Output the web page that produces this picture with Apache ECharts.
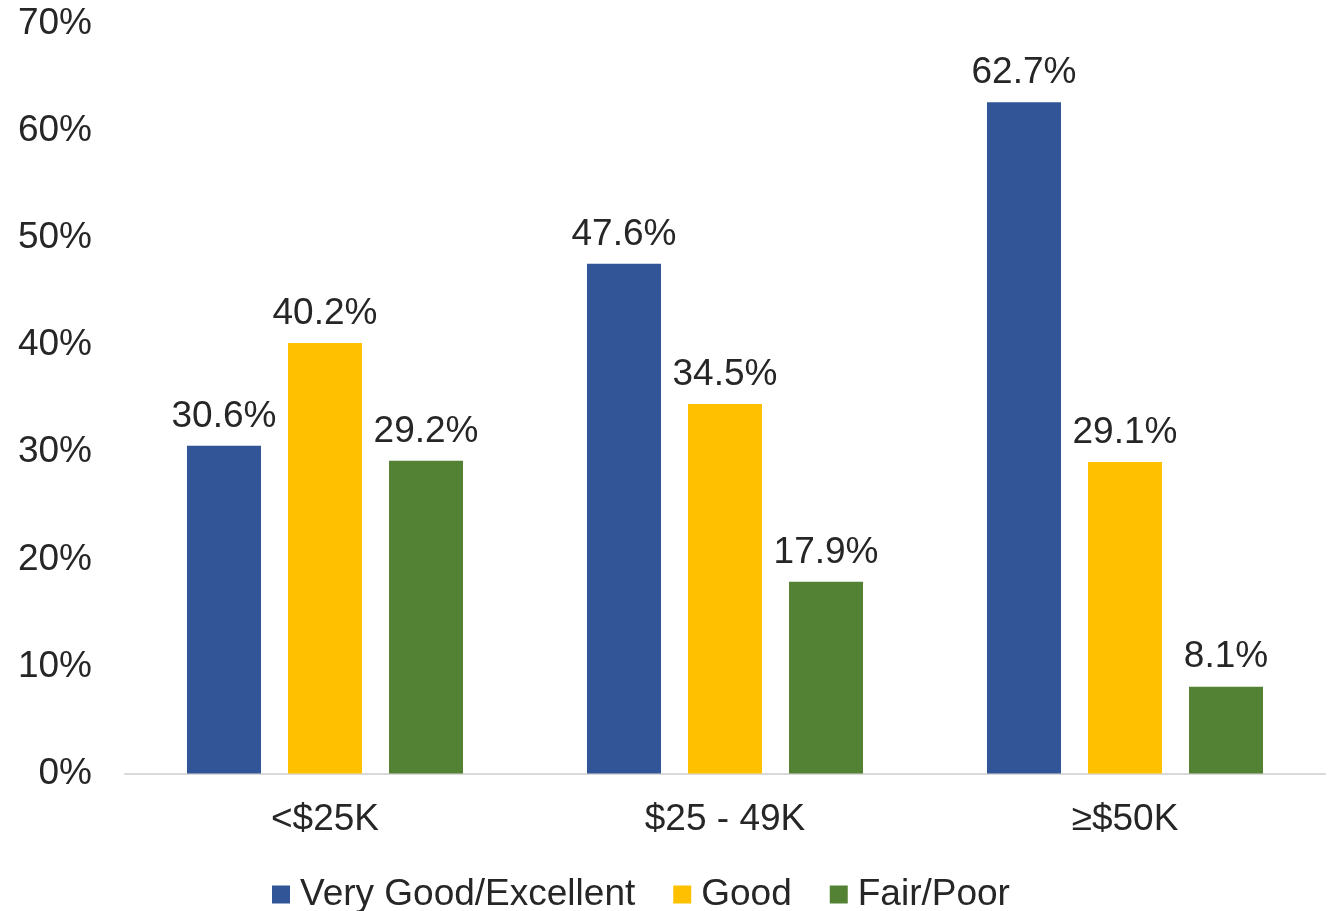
<!DOCTYPE html>
<html><head><meta charset="utf-8">
<script src="https://cdn.jsdelivr.net/npm/echarts@6/dist/echarts.min.js"></script>
<style>html,body{margin:0;padding:0;background:#fff;}#c{width:1329px;height:911px;}</style>
</head><body><div id="c"></div>
<script>
const categories = ['<$25K', '$25 - 49K', '≥$50K'];
const seriesNames = ['Very Good/Excellent', 'Good', 'Fair/Poor'];
const veryGoodExcellent = [30.6, 47.6, 62.7];
const good = [40.2, 34.5, 29.1];
const fairPoor = [29.2, 17.9, 8.1];
const yTicks = [0, 10, 20, 30, 40, 50, 60, 70];
const colors = ['#325597', '#FFC000', '#548235'];
const values = [veryGoodExcellent, good, fairPoor];

const font = 'Liberation Sans, Arial, sans-serif';
const txt = '#262626';
const fs = 37;
const chart = echarts.init(document.getElementById('c'));
chart.setOption({
  animation: false,
  textStyle: { fontFamily: font },
  grid: { left: 125, right: 4, top: 24, bottom: 137.5, containLabel: false },
  legend: {
    top: 876, left: 272, padding: 0, icon: 'rect', itemWidth: 18, itemHeight: 18, itemGap: 38,
    textStyle: { fontSize: fs, color: txt, fontFamily: font, padding: [0, 0, 0, 5] },
    data: seriesNames
  },
  xAxis: {
    type: 'category', data: categories,
    axisLine: { lineStyle: { color: '#D9D9D9', width: 2 } },
    axisTick: { show: false },
    axisLabel: { fontSize: fs, color: txt, margin: 28, fontFamily: font }
  },
  yAxis: {
    type: 'value', min: yTicks[0], max: yTicks[yTicks.length - 1], interval: 10,
    splitLine: { show: false }, axisLine: { show: false }, axisTick: { show: false },
    axisLabel: { fontSize: fs, color: txt, margin: 33, fontFamily: font, padding: [7, 0, 0, 0], formatter: v => v + '%' }
  },
  series: seriesNames.map((n, i) => ({
    name: n, type: 'bar', data: values[i], barWidth: 74, barGap: '36.5%',
    itemStyle: { color: colors[i] },
    label: { show: true, position: 'top', distance: 11, fontSize: fs, color: txt, fontFamily: font,
      formatter: p => p.value.toFixed(1) + '%' }
  }))
});
</script></body></html>
